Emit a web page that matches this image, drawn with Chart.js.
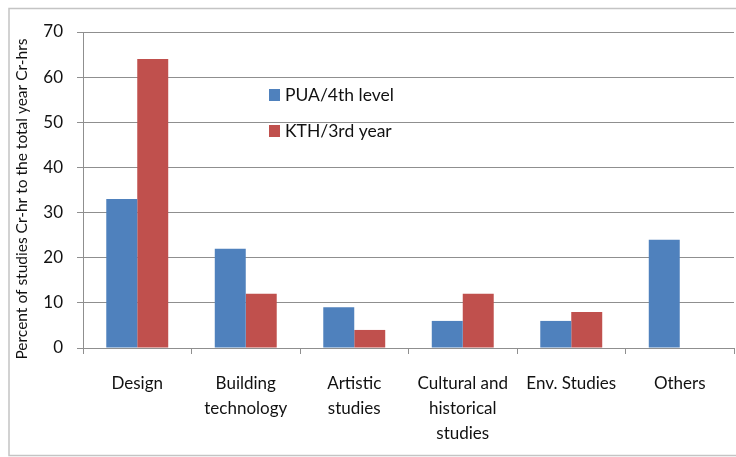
<!DOCTYPE html>
<html>
<head>
<meta charset="utf-8">
<script src="https://cdn.jsdelivr.net/npm/chart.js@4.4.1/dist/chart.umd.min.js"></script>
<style>
  html, body { margin: 0; padding: 0; background: #fff; }
  #wrap { width: 736px; height: 457px; position: relative; }
</style>
</head>
<body>
<div id="wrap"><canvas id="chart"></canvas></div>
<script>
const CATEGORIES = [
  "Design",
  ["Building", "technology"],
  ["Artistic", "studies"],
  ["Cultural and", "historical", "studies"],
  "Env. Studies",
  "Others",
];
const PUA_VALUES = [33, 22, 9, 6, 6, 24];
const KTH_VALUES = [64, 12, 4, 12, 8, 0];
const SERIES_LABELS = ["PUA/4th level", "KTH/3rd year"];
const Y_TICKS = [0, 10, 20, 30, 40, 50, 60, 70];
const Y_TITLE = "Percent of studies Cr-hr to the total year Cr-hrs";

const BLUE = "#4f81bd";
const RED = "#c0504d";
const GRID = "#8f8f8f";
const FONT = "Lato";

// outer frame like the Excel chart area
const framePlugin = {
  id: "frame",
  beforeDraw(chart) {
    const ctx = chart.ctx;
    ctx.save();
    ctx.fillStyle = "#fff";
    ctx.fillRect(0, 0, chart.width, chart.height);
    ctx.strokeStyle = "#c4c4c4";
    ctx.lineWidth = 1.5;
    ctx.strokeRect(9, 8.5, chart.width + 20, chart.height - 10);
    ctx.restore();
  },
};

// y title sits a bit lower than the plot centre in the original
const yTitlePlugin = {
  id: "yTitle",
  afterDraw(chart) {
    const ctx = chart.ctx;
    ctx.save();
    ctx.translate(22, 199);
    ctx.rotate(-Math.PI / 2);
    ctx.font = "15.5px " + FONT;
    ctx.fillStyle = "#111";
    ctx.textAlign = "center";
    ctx.textBaseline = "middle";
    ctx.fillText(Y_TITLE, 0, 0);
    ctx.restore();
  },
};

// legend placed inside the plot, as in the original
const innerLegend = {
  id: "innerLegend",
  afterDraw(chart) {
    const ctx = chart.ctx;
    ctx.save();
    ctx.font = "17.5px " + FONT;
    ctx.textBaseline = "middle";
    chart.data.datasets.forEach((ds, i) => {
      const y = 95 + i * 36;
      ctx.fillStyle = ds.backgroundColor;
      ctx.fillRect(269, y - 6, 11, 12);
      ctx.fillStyle = "#111";
      ctx.fillText(ds.label, 285, y);
    });
    ctx.restore();
  },
};

new Chart(document.getElementById("chart"), {
  type: "bar",
  data: {
    labels: CATEGORIES,
    datasets: [
      {
        label: SERIES_LABELS[0],
        data: PUA_VALUES,
        backgroundColor: BLUE,
        categoryPercentage: 0.571,
        barPercentage: 1.0,
      },
      {
        label: SERIES_LABELS[1],
        data: KTH_VALUES,
        backgroundColor: RED,
        categoryPercentage: 0.571,
        barPercentage: 1.0,
      },
    ],
  },
  options: {
    responsive: true,
    maintainAspectRatio: false,
    animation: false,
    layout: {
      padding: { top: 32, right: 2, bottom: 0, left: 4 },
    },
    scales: {
      x: {
        afterFit(scale) {
          scale.height = 109;
        },
        grid: {
          drawOnChartArea: false,
          tickLength: 6,
          color: GRID,
        },
        border: { color: GRID },
        ticks: {
          color: "#111",
          padding: 17,
          maxRotation: 0,
          autoSkip: false,
          font: { family: FONT, size: 17, lineHeight: 1.47 },
        },
      },
      y: {
        min: 0,
        max: 70,
        afterBuildTicks(scale) {
          scale.ticks = Y_TICKS.map((v) => ({ value: v }));
        },
        afterFit(scale) {
          scale.width = 79;
        },
        grid: {
          color: GRID,
          tickLength: 6,
        },
        border: { color: GRID },
        ticks: {
          color: "#111",
          padding: 14,
          font: { family: FONT, size: 17 },
        },
      },
    },
    plugins: {
      legend: { display: false },
      tooltip: { enabled: false },
    },
  },
  plugins: [framePlugin, yTitlePlugin, innerLegend],
});
</script>
</body>
</html>
